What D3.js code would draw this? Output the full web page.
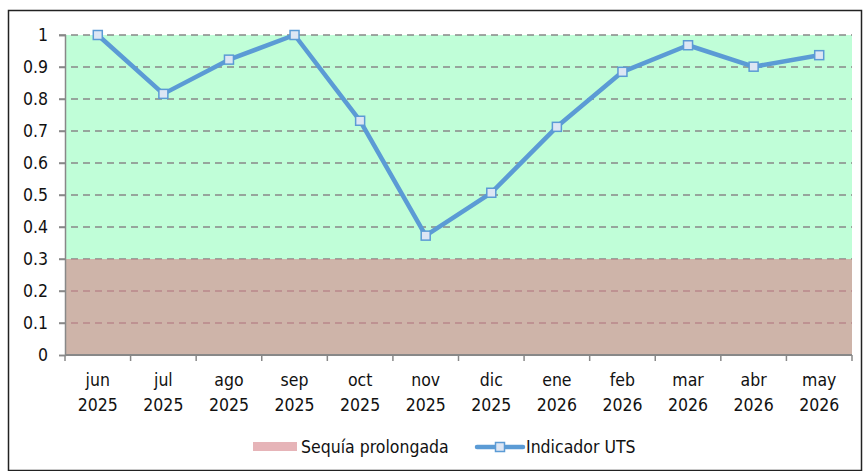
<!DOCTYPE html>
<html>
<head>
<meta charset="utf-8">
<script src="https://cdn.jsdelivr.net/npm/d3@7"></script>
<style>
  body { margin: 0; background: #fff; }
  svg text { font-family: "DejaVu Sans Condensed", "DejaVu Sans", sans-serif; fill: #111; }
</style>
</head>
<body>
<svg id="chart" width="863" height="471"></svg>
<script>
// data
const months = ["jun", "jul", "ago", "sep", "oct", "nov", "dic", "ene", "feb", "mar", "abr", "may"]
const years = ["2025", "2025", "2025", "2025", "2025", "2025", "2025", "2026", "2026", "2026", "2026", "2026"]
const indicadorUTS = [1.0, 0.816, 0.923, 1.0, 0.732, 0.373, 0.507, 0.713, 0.885, 0.968, 0.901, 0.937]
const sequia = [0.3, 0.3, 0.3, 0.3, 0.3, 0.3, 0.3, 0.3, 0.3, 0.3, 0.3, 0.3]
const yTicks = [0, 0.1, 0.2, 0.3, 0.4, 0.5, 0.6, 0.7, 0.8, 0.9, 1]

const MARGIN = { LEFT: 65, RIGHT: 11, TOP: 35, BOTTOM: 116 }
const W = 863, H = 471
const WIDTH = W - MARGIN.LEFT - MARGIN.RIGHT
const HEIGHT = H - MARGIN.TOP - MARGIN.BOTTOM
const FS = 17.5

const svg = d3.select("#chart")

// outer frame
svg.append("rect")
  .attr("x", 8.5).attr("y", 10.5)
  .attr("width", W - 10).attr("height", H - 11)
  .attr("fill", "none").attr("stroke", "#222").attr("stroke-width", 1.5)

const g = svg.append("g").attr("transform", `translate(${MARGIN.LEFT}, ${MARGIN.TOP})`)

// scales
const x = d3.scaleBand().domain(d3.range(months.length)).range([0, WIDTH]).padding(0)
const y = d3.scaleLinear().domain([0, 1]).range([HEIGHT, 0])

// plot background
g.append("rect")
  .attr("width", WIDTH).attr("height", HEIGHT)
  .attr("fill", "#c0fed8")

// gridlines
g.selectAll(".grid").data(yTicks.filter(d => d > 0)).enter().append("line")
  .attr("class", "grid")
  .attr("x1", -6).attr("x2", WIDTH)
  .attr("y1", d => y(d)).attr("y2", d => y(d))
  .attr("stroke", "#888").attr("stroke-width", 1.5)
  .attr("stroke-dasharray", "7,5")

// drought area, spread over the full category width
const areaPts = sequia.map((v, i) => ({ x: x(i) + x.bandwidth() / 2, v }))
areaPts[0].x = x.range()[0]
areaPts[areaPts.length - 1].x = x.range()[1]
const area = d3.area().x(d => d.x).y0(y(0)).y1(d => y(d.v))
g.append("path")
  .attr("d", area(areaPts))
  .attr("fill", "rgb(215,134,140)").attr("fill-opacity", 0.62)

// axes
const axisColor = "#888"
const yAxis = g.append("g")
  .call(d3.axisLeft(y).tickValues(yTicks).tickSize(6).tickPadding(11).tickFormat(d3.format("~g")))
yAxis.select(".domain").attr("stroke", axisColor).attr("stroke-width", 1.5)
yAxis.selectAll(".tick line").attr("stroke", axisColor).attr("stroke-width", 1.5)
yAxis.selectAll(".tick text").attr("font-size", FS).attr("fill", "#111")
  .attr("font-family", null)

const xAxisG = g.append("g").attr("transform", `translate(0, ${HEIGHT})`)
xAxisG.append("line").attr("x1", 0).attr("x2", WIDTH)
  .attr("stroke", axisColor).attr("stroke-width", 2)
xAxisG.selectAll(".xtick").data(d3.range(months.length + 1)).enter().append("line")
  .attr("x1", d => d * x.step()).attr("x2", d => d * x.step())
  .attr("y1", 0).attr("y2", 6)
  .attr("stroke", axisColor).attr("stroke-width", 1.5)
const xl = xAxisG.selectAll(".xlab").data(months).enter().append("text")
  .attr("text-anchor", "middle").attr("font-size", FS)
xl.append("tspan")
  .attr("x", (d, i) => x(i) + x.bandwidth() / 2).attr("y", 31)
  .text(d => d)
xl.append("tspan")
  .attr("x", (d, i) => x(i) + x.bandwidth() / 2).attr("y", 56)
  .text((d, i) => years[i])

// indicator line
const blue = "#5b9bd5"
const line = d3.line().x((d, i) => x(i) + x.bandwidth() / 2).y(d => y(d))
g.append("path")
  .attr("d", line(indicadorUTS))
  .attr("fill", "none").attr("stroke", blue).attr("stroke-width", 4.5)
  .attr("stroke-linejoin", "round")
g.selectAll(".marker").data(indicadorUTS).enter().append("rect")
  .attr("x", (d, i) => x(i) + x.bandwidth() / 2 - 4.5)
  .attr("y", d => y(d) - 4.5)
  .attr("width", 9).attr("height", 9)
  .attr("fill", "#dde6f4").attr("stroke", blue).attr("stroke-width", 1.5)

// legend
const leg = svg.append("g").attr("transform", "translate(0, 447)")
leg.append("rect")
  .attr("x", 253).attr("y", -5).attr("width", 44).attr("height", 9)
  .attr("fill", "rgb(215,134,140)").attr("fill-opacity", 0.62)
leg.append("text").attr("x", 301).attr("y", 6).attr("font-size", FS).text("Sequía prolongada")
leg.append("line").attr("x1", 477).attr("x2", 523).attr("y1", 0).attr("y2", 0)
  .attr("stroke", blue).attr("stroke-width", 4.5).attr("stroke-linecap", "round")
leg.append("rect").attr("x", 495.5).attr("y", -4.5).attr("width", 9).attr("height", 9)
  .attr("fill", "#dde6f4").attr("stroke", blue).attr("stroke-width", 1.5)
leg.append("text").attr("x", 526).attr("y", 6).attr("font-size", FS).text("Indicador UTS")
</script>
</body>
</html>
